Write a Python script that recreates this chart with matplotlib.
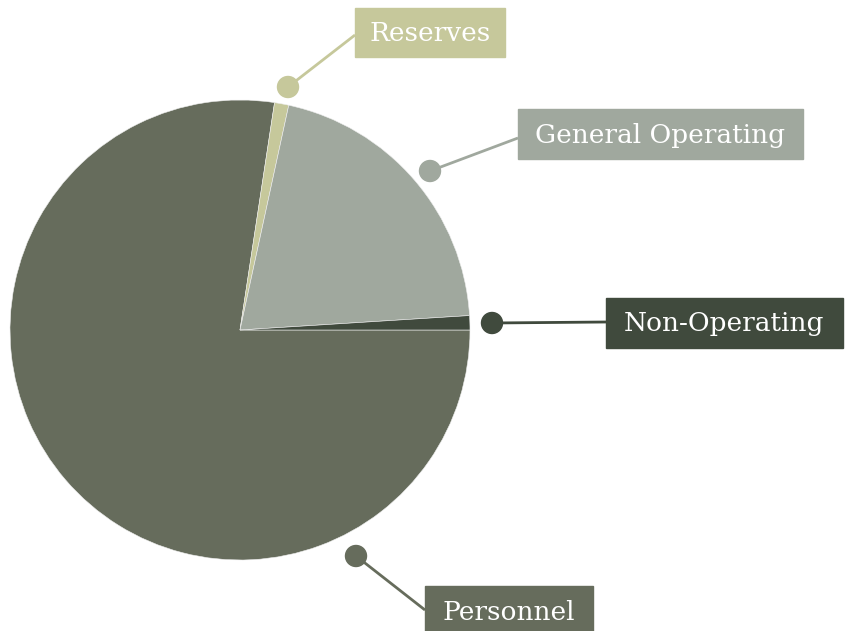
import matplotlib
matplotlib.use("Agg")
import matplotlib.pyplot as plt
from matplotlib.patches import Rectangle, Circle

categories = ["Personnel", "Reserves", "General Operating", "Non-Operating"]
values = [77.4, 1.0, 20.6, 1.0]
colors = ["#666c5c", "#c6c89b", "#a0a89e", "#404a3d"]

W, H = 849, 631
fig = plt.figure(figsize=(W / 100, H / 100), dpi=100)
ax = fig.add_axes([0, 0, 1, 1])

cx, cy, R = 240, H - 330, 230
ax.pie(values, colors=colors, startangle=0, counterclock=False,
       center=(cx, cy), radius=R, frame=True,
       wedgeprops=dict(linewidth=0.4, edgecolor="#eeeeee"))
ax.set_xlim(0, W)
ax.set_ylim(0, H)
ax.set_aspect("equal")
ax.axis("off")

# label layout (pixel coords, y from top): dot, box (x0, y0, x1, y1), line end
layout = {
    "Reserves": ((288, 87), (355, 8, 505, 57), (355, 35)),
    "General Operating": ((430, 171), (518, 109, 803, 159), (518, 138)),
    "Non-Operating": ((492, 323), (606, 298, 843, 348), (606, 322)),
    "Personnel": ((356, 556), (425, 586, 593, 636), (425, 610)),
}

for cat, col in zip(categories, colors):
    (dx, dy), (x0, y0, x1, y1), (lx, ly) = layout[cat]
    ax.plot([dx, lx], [H - dy, H - ly], color=col, lw=2, solid_capstyle="butt", zorder=3)
    ax.add_patch(Circle((dx, H - dy), 10.5, color=col, zorder=4))
    ax.add_patch(Rectangle((x0, H - y1), x1 - x0, y1 - y0, color=col, zorder=4))
    ax.text((x0 + x1) / 2, H - (y0 + y1) / 2 - 1, cat, color="white",
            fontsize=19, family="DejaVu Serif", ha="center", va="center", zorder=5)

fig.savefig("out.png", dpi=100)
